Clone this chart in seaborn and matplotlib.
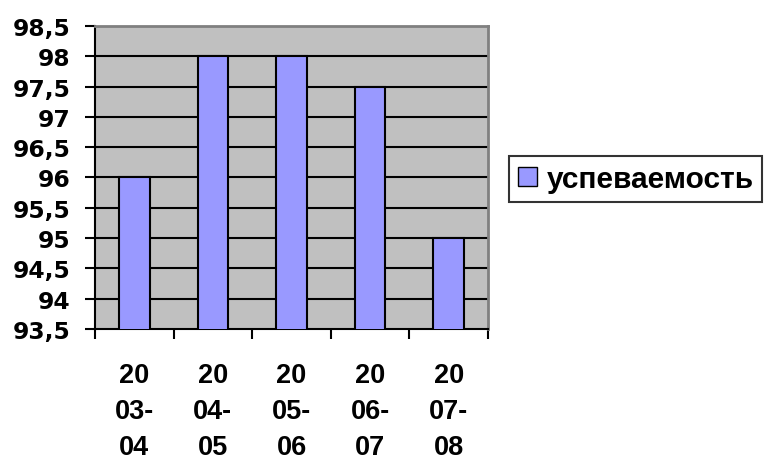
import matplotlib
matplotlib.use("Agg")
import matplotlib.pyplot as plt
import seaborn as sns
import pandas as pd
from matplotlib.patches import Patch
from matplotlib.ticker import FuncFormatter

categories = ["20\n03-\n04", "20\n04-\n05", "20\n05-\n06", "20\n06-\n07", "20\n07-\n08"]
values = [96, 98, 98, 97.5, 95]
series_name = "успеваемость"

sns.set_style("white")
plt.rcParams['font.family'] = ['Liberation Sans', 'DejaVu Sans']
plt.rcParams['text.color'] = 'black'
plt.rcParams['xtick.color'] = 'black'
plt.rcParams['ytick.color'] = 'black'
plt.rcParams['axes.labelcolor'] = 'black'

fig = plt.figure(figsize=(7.64, 4.64), dpi=100)
ax = fig.add_axes([95/764, 1 - 330/464, (488-95)/764, (330-27)/464])
ax.set_facecolor("#C0C0C0")

df = pd.DataFrame({"cat": categories, "val": values})
sns.barplot(data=df, x="cat", y="val", color="#9999FF", edgecolor="black",
            linewidth=1.5, width=0.39, ax=ax, saturation=1, zorder=3)

ax.set_ylim(93.5, 98.5)
ax.set_xlim(-0.5, 4.5)
yt = [93.5 + 0.5 * i for i in range(11)]
ax.set_yticks(yt)
ax.yaxis.set_major_formatter(FuncFormatter(lambda v, p: (f"{v:g}").replace(".", ",")))
for y in yt[1:-1]:
    ax.axhline(y, color="black", lw=1.5, zorder=1)

ax.set_xticks([i - 0.5 for i in range(6)])
ax.set_xticklabels([""] * 6)
for i, c in enumerate(categories):
    ax.text(i, -0.11, c, transform=ax.get_xaxis_transform(), ha="center", va="top",
            fontsize=19.5, fontweight="bold", linespacing=1.5, family="Liberation Sans",
            color="black")

ax.set_xlabel("")
ax.set_ylabel("")
ax.tick_params(axis="y", length=7.2, width=1.5, direction="out", left=True, pad=10.5,
               colors="black")
ax.tick_params(axis="x", length=7.2, width=1.5, direction="out", bottom=True, colors="black")
for lab in ax.get_yticklabels():
    lab.set_fontweight("bold")
    lab.set_fontfamily("DejaVu Sans")
    lab.set_fontsize(16.8)
    lab.set_color("black")

ax.spines["left"].set_color("black")
ax.spines["bottom"].set_color("black")
ax.spines["left"].set_linewidth(1.5)
ax.spines["bottom"].set_linewidth(1.5)
ax.spines["top"].set_color("#808080")
ax.spines["right"].set_color("#808080")
ax.spines["top"].set_linewidth(2)
ax.spines["right"].set_linewidth(2)

handles = [Patch(facecolor="#9999FF", edgecolor="black", label=series_name)]
leg = fig.legend(handles=handles, loc="center left", bbox_to_anchor=(509/764, 1 - 180/464),
                 prop={"weight": "bold", "size": 21.5, "family": "Liberation Sans"},
                 frameon=True, fancybox=False,
                 handlelength=0.65, handleheight=0.65, handletextpad=0.3,
                 borderpad=0.3, borderaxespad=0)
leg.get_frame().set_edgecolor("black")
leg.get_frame().set_linewidth(1.5)
for t in leg.get_texts():
    t.set_color("black")

fig.savefig("out.png", dpi=100)
